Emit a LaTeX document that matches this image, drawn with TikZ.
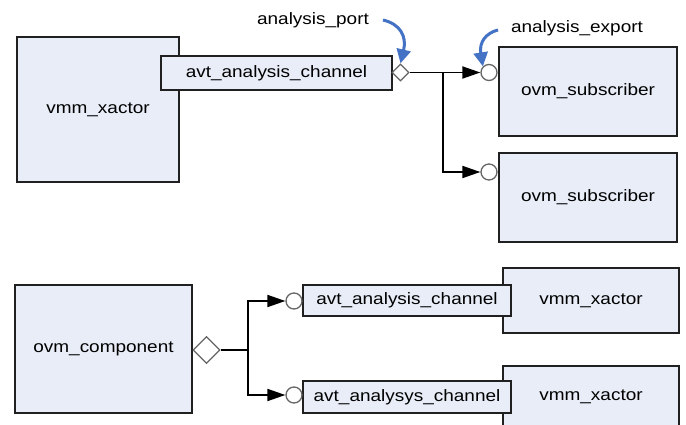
\documentclass[tikz,border=0pt]{standalone}
\usepackage{fontspec}
\setmainfont{Liberation Sans}[FakeStretch=1.15]
\usetikzlibrary{shapes.geometric,arrows.meta}
\definecolor{boxfill}{HTML}{E8EDF7}
\definecolor{boxline}{HTML}{202020}
\definecolor{noteblue}{HTML}{4472C4}
\begin{document}
\begin{tikzpicture}[x=1pt,y=-1pt,
  every node/.style={font=\fontsize{16.5}{19}\selectfont},
  blk/.style={draw=boxline,line width=1.5pt,fill=boxfill,rectangle,inner sep=0pt},
  port/.style={diamond,draw=black!60,line width=1.3pt,fill=white,inner sep=0pt,aspect=1},
  expo/.style={circle,draw=black!60,line width=1.3pt,fill=white,inner sep=0pt,minimum size=16pt},
  conn/.style={line width=1.8pt,black},
  arr/.style={conn,-{Triangle[length=18pt,width=12pt]}},
  note/.style={noteblue,line width=3pt,-{Triangle[length=14pt,width=14pt]}}]
\useasboundingbox (0,0) rectangle (686,425);
\fill[white] (0,0) rectangle (686,425);
% top part
\node[blk,minimum width=162pt,minimum height=145pt] (vx1) at (98,109.5) {vmm\_xactor};
\node[blk,minimum width=231pt,minimum height=34pt] (ch1) at (276.5,73) {avt\_analysis\_channel};
\node[port,minimum width=17pt,minimum height=17pt] (ap) at (400.5,72.5) {};
\node[blk,minimum width=178pt,minimum height=89pt] (sub1) at (588,91.5) {ovm\_subscriber};
\node[blk,minimum width=178pt,minimum height=89pt] (sub2) at (588,197.5) {ovm\_subscriber};
\node[expo] (ae1) at (489,72.5) {};
\node[expo] (ae2) at (489,172) {};
\coordinate (b1) at (443,72.5);
\draw[conn] (ap.east) -- (b1);
\draw[arr] (b1) -- (ae1.west);
\draw[arr] (b1) |- (ae2.west);
\node (lp) at (313,20) {analysis\_port};
\node (le) at (577,28) {analysis\_export};
\draw[note] (383,20) .. controls (400,24) and (407,36) .. (ap.north);
\draw[note] (498,30) .. controls (486,33) and (479,42) .. (ae1.north west);
% bottom part
\node[blk,minimum width=177pt,minimum height=128pt] (comp) at (103.5,349) {ovm\_component};
\node[port,minimum width=27pt,minimum height=27pt] (cp) at (206.5,350) {};
\node[blk,minimum width=176pt,minimum height=65pt] (vx2) at (591,300.5) {vmm\_xactor};
\node[blk,minimum width=176pt,minimum height=62pt] (vx3) at (591,397) {vmm\_xactor};
\node[blk,minimum width=208pt,minimum height=31pt] (ch2) at (407,300.5) {avt\_analysis\_channel};
\node[blk,minimum width=208pt,minimum height=32pt] (ch3) at (407,397) {avt\_analysys\_channel};
\node[expo] (ce1) at (294,301) {};
\node[expo] (ce2) at (294,395) {};
\coordinate (b2) at (248,350);
\draw[conn] (cp.east) -- (b2);
\draw[arr] (b2) |- (ce1.west);
\draw[arr] (b2) |- (ce2.west);
\end{tikzpicture}
\end{document}
